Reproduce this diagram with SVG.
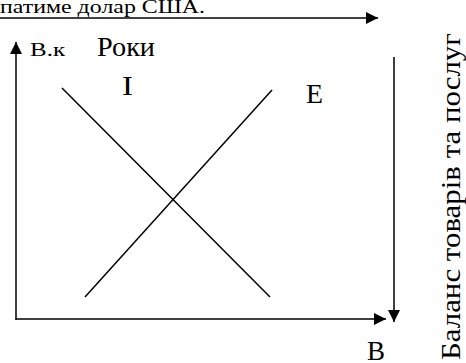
<svg xmlns="http://www.w3.org/2000/svg" width="466" height="363" viewBox="0 0 466 363">
<style>
.t{font-family:"Liberation Serif","DejaVu Serif",serif;fill:#000}
.ln{stroke:#000;stroke-width:1.5;fill:none}
</style>
<defs>
<marker id="ah" viewBox="0 0 10 10" refX="10" refY="5" markerWidth="14" markerHeight="12" markerUnits="userSpaceOnUse" orient="auto"><path d="M0,0 L10,5 L0,10 Z" fill="#000"/></marker>
</defs>
<rect width="466" height="363" fill="#fff"/>
<g id="labels">
<text class="t" x="0" y="13" font-size="19" textLength="205" lengthAdjust="spacingAndGlyphs">патиме долар США.</text>
<text class="t" x="30" y="56" font-size="19" textLength="35" lengthAdjust="spacingAndGlyphs">В.к</text>
<text class="t" x="97" y="56" font-size="28" textLength="58" lengthAdjust="spacingAndGlyphs">Роки</text>
<text class="t" x="122" y="95" font-size="27" textLength="11" lengthAdjust="spacingAndGlyphs">I</text>
<text class="t" x="306" y="103" font-size="27" textLength="17" lengthAdjust="spacingAndGlyphs">E</text>
<text class="t" x="367" y="360" font-size="27" textLength="18" lengthAdjust="spacingAndGlyphs">B</text>
<text class="t" transform="translate(460,360) rotate(-90)" font-size="27" textLength="327" lengthAdjust="spacingAndGlyphs">Баланс товарів та послуг</text>
</g>
<g id="connectors">
<line class="ln" x1="0" y1="18" x2="378" y2="18" marker-end="url(#ah)"/>
<line class="ln" x1="16" y1="320" x2="16" y2="42" marker-end="url(#ah)"/>
<line class="ln" x1="15.5" y1="319" x2="386" y2="319" marker-end="url(#ah)"/>
<line class="ln" x1="394" y1="57" x2="394" y2="322" marker-end="url(#ah)"/>
<line class="ln" x1="62" y1="88" x2="270" y2="297"/>
<line class="ln" x1="85" y1="297" x2="272" y2="90"/>
</g>
</svg>
